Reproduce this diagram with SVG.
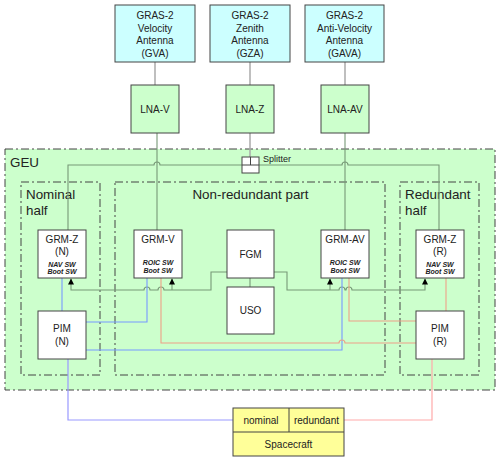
<svg xmlns="http://www.w3.org/2000/svg" width="500" height="461" viewBox="0 0 500 461">
<style>
text{font-family:"Liberation Sans",Arial,sans-serif;fill:#222}
.t11{font-size:10px;text-anchor:middle}
.sw{font-size:7px;font-weight:bold;font-style:italic;text-anchor:middle}
.lbl{font-size:13.4px}
.box{fill:#fff;stroke:#444;stroke-width:1}
.ant{fill:#ccffff;stroke:#444;stroke-width:1}
.lna{fill:#ccffcc;stroke:#444;stroke-width:1}
.sc{fill:#ffff99;stroke:#444;stroke-width:1}
.dd{fill:none;stroke:#444;stroke-width:1;stroke-dasharray:8,3,2,3}
.grey{fill:none;stroke:#aaaaaa;stroke-width:1.5}
.bus{fill:none;stroke:#779977;stroke-width:1.1}
.blue{fill:none;stroke:#7799ff;stroke-width:1.1}
.red{fill:none;stroke:#eea088;stroke-width:1.1}
.blue2{fill:none;stroke:#9999ff;stroke-width:1.2}
.red2{fill:none;stroke:#ffaaaa;stroke-width:1.2}
</style>
<defs>
<marker id="ah" viewBox="0 0 6 6" refX="6" refY="3" markerWidth="6" markerHeight="6" orient="auto" markerUnits="userSpaceOnUse">
<path d="M0,0 L6,3 L0,6 Z" fill="#000"/>
</marker>
</defs>

<!-- containers -->
<g id="GEU">
<rect x="5" y="149" width="490" height="241" fill="#ccffcc" stroke="#444" stroke-width="1" stroke-dasharray="8,3,2,3"/>
<text class="lbl" x="10" y="167">GEU</text>
</g>
<g id="nominal-half">
<rect class="dd" x="21" y="182" width="79" height="193"/>
<text class="lbl" x="26" y="199">Nominal</text>
<text class="lbl" x="26" y="215">half</text>
</g>
<g id="non-redundant-part">
<rect class="dd" x="115" y="182" width="270" height="193"/>
<text class="lbl" x="250.5" y="199" text-anchor="middle">Non-redundant part</text>
</g>
<g id="redundant-half">
<rect class="dd" x="400" y="182" width="79" height="193"/>
<text class="lbl" x="405" y="199">Redundant</text>
<text class="lbl" x="405" y="215">half</text>
</g>

<!-- connectors -->
<g id="connectors">
<path class="grey" d="M155,62 V85 M250,62 V85 M345,62 V85"/>
<path class="grey" d="M250,133 V157"/>
<path class="bus" d="M157,133 V230 M345,133 V230"/>
<path class="bus" d="M68,230 V165 H154 a3,3 0 0 1 6,0 H342 a3,3 0 0 1 6,0 H439 V230"/>
<path class="bus" d="M227,272 H211 V290 H164 a3,3 0 0 0 -6,0 H150 a3,3 0 0 0 -6,0 H71 V278.5" marker-end="url(#ah)"/>
<path class="bus" d="M172,290 V278.5" marker-end="url(#ah)"/>
<path class="bus" d="M274,272 H287 V290 H339 a3,3 0 0 1 6,0 H346 a3,3 0 0 1 6,0 H425 V278.5" marker-end="url(#ah)"/>
<path class="bus" d="M330,290 V278.5" marker-end="url(#ah)"/>
<path class="bus" d="M250,278 V287"/>
<path class="blue" d="M62,278 V311"/>
<path class="blue" d="M86,322 H147 V278"/>
<path class="blue" d="M86,350 H342 V278"/>
<path class="red" d="M161,278 V343 H339 a3,3 0 0 1 6,0 H416"/>
<path class="red" d="M349,278 V321 H416"/>
<path class="red" d="M446,278 V311"/>
<path class="blue2" d="M68,359 V420 H233"/>
<path class="red2" d="M432,359 V420 H344"/>
</g>

<!-- splitter -->
<g id="splitter">
<rect x="242" y="157" width="17" height="16" fill="#fff" stroke="#444" stroke-width="1"/>
<path d="M242,165 H259 M250.5,157 V165" stroke="#444" stroke-width="1" fill="none"/>
<text x="263" y="162" style="font-size:9px">Splitter</text>
</g>

<!-- antennas -->
<g id="GVA">
<rect class="ant" x="115" y="5" width="80" height="57"/>
<text class="t11" x="155" y="19">GRAS-2</text>
<text class="t11" x="155" y="31.5">Velocity</text>
<text class="t11" x="155" y="44">Antenna</text>
<text class="t11" x="155" y="56.5">(GVA)</text>
</g>
<g id="GZA">
<rect class="ant" x="210" y="5" width="80" height="57"/>
<text class="t11" x="250" y="19">GRAS-2</text>
<text class="t11" x="250" y="31.5">Zenith</text>
<text class="t11" x="250" y="44">Antenna</text>
<text class="t11" x="250" y="56.5">(GZA)</text>
</g>
<g id="GAVA">
<rect class="ant" x="305" y="5" width="79" height="57"/>
<text class="t11" x="344.5" y="19">GRAS-2</text>
<text class="t11" x="344.5" y="31.5">Anti-Velocity</text>
<text class="t11" x="344.5" y="44">Antenna</text>
<text class="t11" x="344.5" y="56.5">(GAVA)</text>
</g>

<!-- LNAs -->
<g id="LNA-V">
<rect class="lna" x="131" y="85" width="48" height="48"/>
<text class="t11" x="155" y="112.5">LNA-V</text>
</g>
<g id="LNA-Z">
<rect class="lna" x="226" y="85" width="48" height="48"/>
<text class="t11" x="250" y="112.5">LNA-Z</text>
</g>
<g id="LNA-AV">
<rect class="lna" x="321" y="85" width="48" height="48"/>
<text class="t11" x="345" y="112.5">LNA-AV</text>
</g>

<!-- GRMs -->
<g id="GRM-Z-N">
<rect class="box" x="38" y="230" width="48" height="48"/>
<text class="t11" x="62" y="242.5">GRM-Z</text>
<text class="t11" x="62" y="254.5">(N)</text>
<text class="sw" x="62" y="266.5">NAV SW</text>
<text class="sw" x="62" y="274">Boot SW</text>
</g>
<g id="GRM-V">
<rect class="box" x="134" y="230" width="48" height="48"/>
<text class="t11" x="158" y="242.5">GRM-V</text>
<text class="sw" x="158" y="264.5">ROIC SW</text>
<text class="sw" x="158" y="272.5">Boot SW</text>
</g>
<g id="FGM">
<rect class="box" x="227" y="230" width="47" height="48"/>
<text class="t11" x="250.5" y="257.5">FGM</text>
</g>
<g id="USO">
<rect class="box" x="227" y="287" width="47" height="47"/>
<text class="t11" x="250.5" y="314">USO</text>
</g>
<g id="GRM-AV">
<rect class="box" x="321" y="230" width="48" height="48"/>
<text class="t11" x="345" y="242.5">GRM-AV</text>
<text class="sw" x="345" y="264.5">ROIC SW</text>
<text class="sw" x="345" y="272.5">Boot SW</text>
</g>
<g id="GRM-Z-R">
<rect class="box" x="416" y="230" width="48" height="48"/>
<text class="t11" x="440" y="242.5">GRM-Z</text>
<text class="t11" x="440" y="254.5">(R)</text>
<text class="sw" x="440" y="266.5">NAV SW</text>
<text class="sw" x="440" y="274">Boot SW</text>
</g>

<!-- PIMs -->
<g id="PIM-N">
<rect class="box" x="38" y="311" width="48" height="48"/>
<text class="t11" x="62" y="331.5">PIM</text>
<text class="t11" x="62" y="344.5">(N)</text>
</g>
<g id="PIM-R">
<rect class="box" x="416" y="311" width="48" height="48"/>
<text class="t11" x="440" y="331.5">PIM</text>
<text class="t11" x="440" y="344.5">(R)</text>
</g>

<!-- spacecraft -->
<g id="Spacecraft">
<rect class="sc" x="233" y="408" width="111" height="48"/>
<path d="M233,432 H344 M289,408 V432" stroke="#444" stroke-width="1" fill="none"/>
<text class="t11" x="261" y="423.5">nominal</text>
<text class="t11" x="316.5" y="423.5">redundant</text>
<text class="t11" x="288.5" y="447.5">Spacecraft</text>
</g>
</svg>
